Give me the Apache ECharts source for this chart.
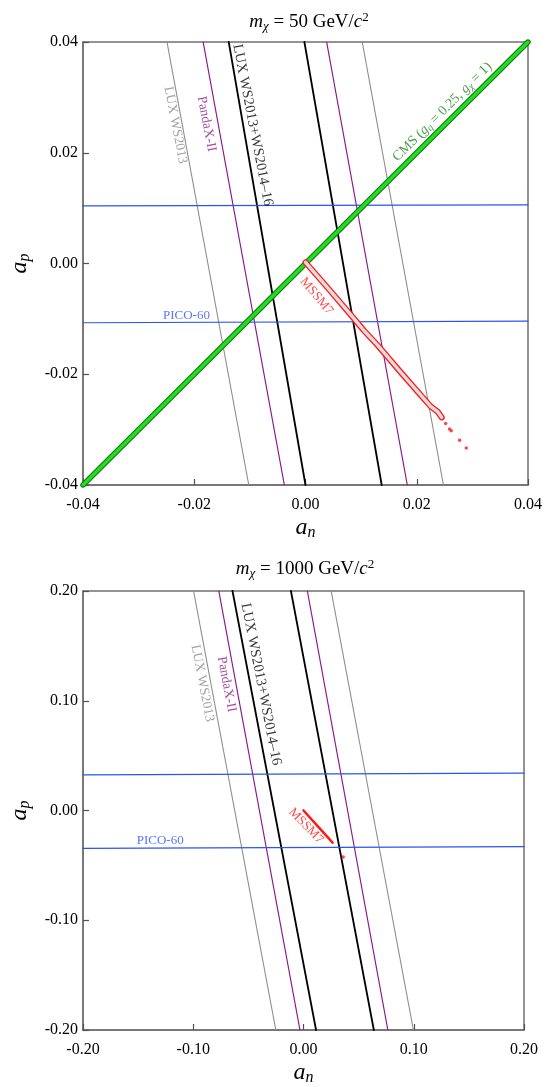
<!DOCTYPE html>
<html>
<head>
<meta charset="utf-8">
<script src="https://cdn.jsdelivr.net/npm/echarts@6/dist/echarts.min.js"></script>
<style>
html,body{margin:0;padding:0;background:#fff;}
#c{width:557px;height:1087px;}
</style>
</head>
<body>
<div id="c"></div>
<script>
// ---------- DATA ----------
// Top panel (m_chi = 50 GeV/c^2)
const topLuxWS2013A = [[-0.0249, 0.04], [-0.0102, -0.04]];
const topLuxWS2013B = [[0.0102, 0.04], [0.0248, -0.04]];
const topPandaxA = [[-0.0184, 0.04], [-0.0038, -0.04]];
const topPandaxB = [[0.0038, 0.04], [0.0183, -0.04]];
const topLuxCombA = [[-0.0138, 0.04], [0.0000, -0.04]];
const topLuxCombB = [[-0.0002, 0.04], [0.0137, -0.04]];
const topPicoA = [[-0.04, 0.0104], [0.04, 0.0106]];
const topPicoB = [[-0.04, -0.0107], [0.04, -0.0104]];
const topCms = [[-0.04, -0.04], [0.04, 0.04]];
const topMssm7 = [[0.0000, 0.0002], [0.0040, -0.0044], [0.0085, -0.0097], [0.0105, -0.0121],
                  [0.0130, -0.0148], [0.0170, -0.0195], [0.0210, -0.0241], [0.0225, -0.0258],
                  [0.0238, -0.0268], [0.0245, -0.0278]];
const topMssm7Dots = [[0.0252, -0.0289], [0.0259, -0.0299], [0.0262, -0.0302], [0.0277, -0.0319], [0.0289, -0.0333]];

// Bottom panel (m_chi = 1000 GeV/c^2)
const botLuxWS2013A = [[-0.0997, 0.20], [-0.0251, -0.20]];
const botLuxWS2013B = [[0.0251, 0.20], [0.0997, -0.20]];
const botPandaxA = [[-0.0768, 0.20], [-0.0032, -0.20]];
const botPandaxB = [[0.0035, 0.20], [0.0765, -0.20]];
const botLuxCombA = [[-0.0644, 0.20], [0.0114, -0.20]];
const botLuxCombB = [[-0.0114, 0.20], [0.0638, -0.20]];
const botPicoA = [[-0.20, 0.0325], [0.20, 0.0340]];
const botPicoB = [[-0.20, -0.0345], [0.20, -0.0330]];
const botMssm7 = [[0.0000, 0.0000], [0.0264, -0.0293]];
const botMssm7Dots = [[0.0360, -0.0423]];

// Axis ranges / ticks
const topRange = [-0.04, 0.04], topStep = 0.02;
const botRange = [-0.20, 0.20], botStep = 0.10;

// Titles and labels
const topTitle = '{i|m}{s|χ}{n| = 50 GeV/}{i|c}{p|2}';
const botTitle = '{i|m}{s|χ}{n| = 1000 GeV/}{i|c}{p|2}';
const labelLux2013 = 'LUX WS2013';
const labelPandax = 'PandaX-II';
const labelLuxComb = 'LUX WS2013+WS2014–16';
const labelPico = 'PICO-60';
const labelMssm = 'MSSM7';
const labelCms = '{t|CMS (}{i|g}{s|q}{t| = 0.25, }{i|g}{s|χ}{t| = 1)}';

// label anchor points (data coords)
const topLabelPos = {lux2013: [-0.0234, 0.0250], pandax: [-0.0178, 0.0252], luxComb: [-0.0095, 0.0250],
                     pico: [-0.0214, -0.0094], cms: [0.0246, 0.0274], mssm: [0.0020, -0.0059]};
const botLabelPos = {lux2013: [-0.0917, 0.116], pandax: [-0.0698, 0.115], luxComb: [-0.0385, 0.115],
                     pico: [-0.130, -0.0275], mssm: [0.0022, -0.014]};

// ---------- STYLE ----------
const FONT = 'Liberation Serif';
const GRAY = '#8c8c8c', PURPLE = '#8a1a8a', BLACK = '#000', BLUE = '#2a55f0', RED = '#ff1a1a';
const CMSGREEN = '#1a8a1a';

function fmt(v){ return (Math.abs(v) < 1e-9 ? 0 : v).toFixed(2); }

function lineSeries(data, idx, color, width, z){
  return {type:'line', xAxisIndex:idx, yAxisIndex:idx, data:data, showSymbol:false, symbol:'none',
          silent:true, animation:false, z:z||2,
          lineStyle:{color:color, width:width, cap:'round', join:'round'}};
}
function labelSeries(pos, idx, text, color, size, rot, rich){
  return {type:'scatter', xAxisIndex:idx, yAxisIndex:idx, data:[pos], symbolSize:2,
          itemStyle:{color:'rgba(0,0,0,0)'}, silent:true, animation:false, z:10,
          label:{show:true, position:'inside', formatter:text, color:color, fontFamily:FONT,
                 fontWeight:'normal', fontSize:size, rotate:rot, rich:rich||{}}};
}
function dotSeries(data, idx){
  return {type:'scatter', xAxisIndex:idx, yAxisIndex:idx, data:data, symbolSize:3.5,
          itemStyle:{color:RED}, silent:true, animation:false, z:6};
}

const titleRich = {
  i:{fontFamily:FONT, fontStyle:'italic', fontWeight:'normal', fontSize:19, color:'#000'},
  n:{fontFamily:FONT, fontWeight:'normal', fontSize:19, color:'#000'},
  s:{fontFamily:FONT, fontStyle:'italic', fontWeight:'normal', fontSize:13, color:'#000', padding:[9,0,0,0]},
  p:{fontFamily:FONT, fontWeight:'normal', fontSize:13, color:'#000', padding:[0,0,9,0]}
};
const cmsRich = {
  i:{fontFamily:FONT, fontStyle:'italic', fontSize:14, color:CMSGREEN},
  t:{fontFamily:FONT, fontSize:14, color:CMSGREEN},
  s:{fontFamily:FONT, fontStyle:'italic', fontSize:10, color:CMSGREEN, padding:[6,0,0,0]}
};
const nameRich = {
  i:{fontFamily:FONT, fontStyle:'italic', fontSize:24, color:'#000'},
  s:{fontFamily:FONT, fontStyle:'italic', fontSize:16, color:'#000', padding:[10,0,0,0]}
};

function xAxis(idx, range, step){
  return {type:'value', gridIndex:idx, min:range[0], max:range[1], interval:step,
    name:'{i|a}{s|n}', nameLocation:'middle', nameGap:30, nameTextStyle:{rich:nameRich},
    axisLine:{show:true, onZero:false, lineStyle:{color:'#707070', width:1.5}},
    axisTick:{show:true, inside:true, length:6, lineStyle:{color:'#505050', width:1.2}},
    axisLabel:{formatter:fmt, fontFamily:FONT, fontSize:16, color:'#000', margin:12},
    splitLine:{show:false}};
}
function yAxis(idx, range, step){
  return {type:'value', gridIndex:idx, min:range[0], max:range[1], interval:step,
    name:'{i|a}{s|p}', nameLocation:'middle', nameGap:50, nameRotate:90, nameTextStyle:{rich:nameRich},
    axisLine:{show:true, onZero:false, lineStyle:{color:'#707070', width:1.5}},
    axisTick:{show:true, inside:true, length:6, lineStyle:{color:'#505050', width:1.2}},
    axisLabel:{formatter:fmt, fontFamily:FONT, fontSize:16, color:'#000', margin:5},
    splitLine:{show:false}};
}

const series = [
  // top panel
  lineSeries(topLuxWS2013A, 0, GRAY, 1.1), lineSeries(topLuxWS2013B, 0, GRAY, 1.1),
  lineSeries(topPandaxA, 0, PURPLE, 1.2), lineSeries(topPandaxB, 0, PURPLE, 1.2),
  lineSeries(topLuxCombA, 0, BLACK, 1.8), lineSeries(topLuxCombB, 0, BLACK, 1.8),
  lineSeries(topPicoA, 0, BLUE, 1.2), lineSeries(topPicoB, 0, BLUE, 1.2),
  lineSeries(topCms, 0, '#137a13', 5.5, 3), lineSeries(topCms, 0, '#22dd22', 3.2, 4),
  lineSeries(topMssm7, 0, RED, 6, 5), lineSeries(topMssm7, 0, '#dcdcdc', 3.4, 6),
  dotSeries(topMssm7Dots, 0),
  labelSeries(topLabelPos.lux2013, 0, labelLux2013, '#8c8c8c', 13.5, -79),
  labelSeries(topLabelPos.pandax, 0, labelPandax, PURPLE, 13.5, -79),
  labelSeries(topLabelPos.luxComb, 0, labelLuxComb, '#000', 14.5, -79),
  labelSeries(topLabelPos.pico, 0, labelPico, BLUE, 13, 0),
  labelSeries(topLabelPos.cms, 0, labelCms, CMSGREEN, 14, 45, cmsRich),
  labelSeries(topLabelPos.mssm, 0, labelMssm, RED, 13, -50),
  // bottom panel
  lineSeries(botLuxWS2013A, 1, GRAY, 1.1), lineSeries(botLuxWS2013B, 1, GRAY, 1.1),
  lineSeries(botPandaxA, 1, PURPLE, 1.2), lineSeries(botPandaxB, 1, PURPLE, 1.2),
  lineSeries(botLuxCombA, 1, BLACK, 1.8), lineSeries(botLuxCombB, 1, BLACK, 1.8),
  lineSeries(botPicoA, 1, BLUE, 1.2), lineSeries(botPicoB, 1, BLUE, 1.2),
  lineSeries(botMssm7, 1, RED, 2.6, 5),
  dotSeries(botMssm7Dots, 1),
  labelSeries(botLabelPos.lux2013, 1, labelLux2013, '#8c8c8c', 13.5, -79),
  labelSeries(botLabelPos.pandax, 1, labelPandax, PURPLE, 13.5, -79),
  labelSeries(botLabelPos.luxComb, 1, labelLuxComb, '#000', 14.5, -79),
  labelSeries(botLabelPos.pico, 1, labelPico, BLUE, 13, 0),
  labelSeries(botLabelPos.mssm, 1, labelMssm, RED, 13, -46)
];

const chart = echarts.init(document.getElementById('c'), null, {renderer:'canvas'});
chart.setOption({
  backgroundColor:'#fff',
  animation:false,
  title:[
    {text:topTitle, left:304, top:6, textAlign:'center', textStyle:{fontWeight:'normal', rich:titleRich}},
    {text:botTitle, left:300, top:553, textAlign:'center', textStyle:{fontWeight:'normal', rich:titleRich}}
  ],
  grid:[
    {left:81, right:29, top:42, height:443, show:true, borderColor:'#707070', borderWidth:1.5, backgroundColor:'transparent'},
    {left:77, right:33, top:591, height:443, show:true, borderColor:'#707070', borderWidth:1.5, backgroundColor:'transparent'}
  ],
  xAxis:[xAxis(0, topRange, topStep), xAxis(1, botRange, botStep)],
  yAxis:[yAxis(0, topRange, topStep), yAxis(1, botRange, botStep)],
  series:series
});
</script>
</body>
</html>
